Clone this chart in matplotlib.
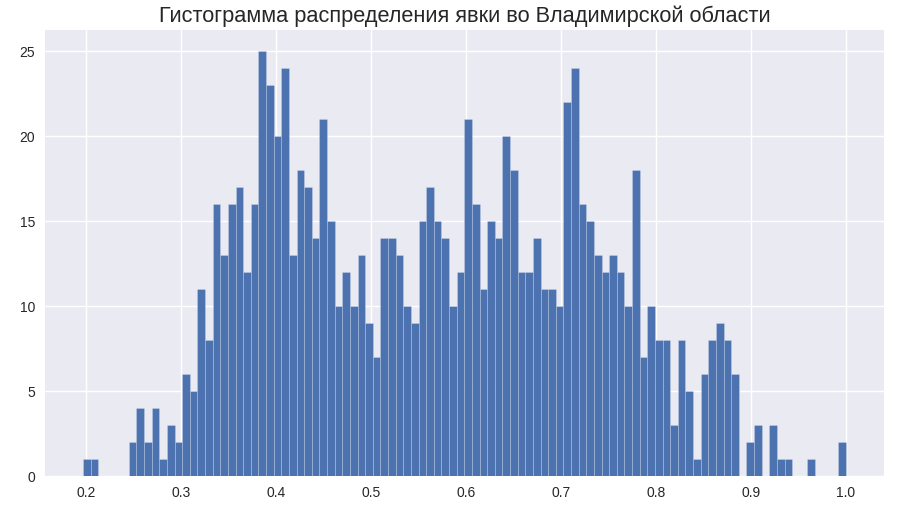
import numpy as np
import matplotlib
matplotlib.use("Agg")
import matplotlib.pyplot as plt

plt.style.use("seaborn-v0_8")
plt.rcParams["font.family"] = ["Liberation Sans", "DejaVu Sans"]

# Turnout histogram (100 bins between min and max turnout)
turnout_min = 0.1968
turnout_max = 1.0
counts = [1, 1, 0, 0, 0, 0, 2, 4, 2, 4,
          1, 3, 2, 6, 5, 11, 8, 16, 13, 16,
          17, 12, 16, 25, 23, 20, 24, 13, 18, 17,
          14, 21, 15, 10, 12, 10, 13, 9, 7, 14,
          14, 13, 10, 9, 15, 17, 15, 14, 10, 12,
          21, 16, 11, 15, 14, 20, 18, 12, 12, 14,
          11, 11, 10, 22, 24, 16, 15, 13, 12, 13,
          12, 10, 18, 7, 10, 8, 8, 3, 8, 5,
          1, 6, 8, 9, 8, 6, 0, 2, 3, 0,
          3, 1, 1, 0, 0, 1, 0, 0, 0, 2]
title = "Гистограмма распределения явки во Владимирской области"

edges = np.linspace(turnout_min, turnout_max, len(counts) + 1)
centers = (edges[:-1] + edges[1:]) / 2

fig = plt.figure(figsize=(8.99, 5.11), dpi=100)
ax = fig.add_axes([0.05, 0.068, 0.933, 0.873])
ax.hist(centers, bins=edges, weights=counts, color="#4C72B0",
        edgecolor=(1, 1, 1, 0.35), linewidth=0.4)
ax.set_title(title, fontsize=15.7)
ax.tick_params(labelsize=10)
fig.savefig("out.png", dpi=100)
